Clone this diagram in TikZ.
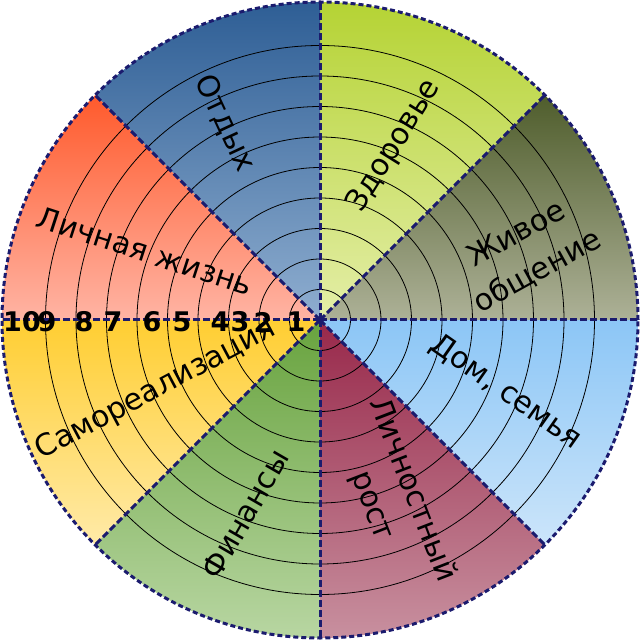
\documentclass[tikz,border=0pt]{standalone}
\usepackage{fontspec}
\setmainfont{DejaVu Sans}
\definecolor{navy}{HTML}{1B1B6E}
\definecolor{otT}{HTML}{2E5E95}\definecolor{otB}{HTML}{8FAED0}
\definecolor{zdT}{HTML}{B5D334}\definecolor{zdB}{HTML}{E4EEA8}
\definecolor{zhT}{HTML}{4F5D2C}\definecolor{zhB}{HTML}{ADB197}
\definecolor{doT}{HTML}{8CC6F6}\definecolor{doB}{HTML}{CCE5FA}
\definecolor{liT}{HTML}{98284A}\definecolor{liB}{HTML}{C8909F}
\definecolor{fiT}{HTML}{68A33E}\definecolor{fiB}{HTML}{B8D6A2}
\definecolor{saT}{HTML}{FFCE32}\definecolor{saB}{HTML}{FFEAA8}
\definecolor{lzT}{HTML}{FF5A2C}\definecolor{lzB}{HTML}{FFB4A4}
\begin{document}
\begin{tikzpicture}[x=1pt,y=1pt,
  divider/.style={draw=navy, line width=3pt, dash pattern=on 7pt off 3pt},
  rim/.style={draw=navy, line width=3pt, dash pattern=on 5pt off 3pt},
  ring/.style={draw=black, line width=0.8pt},
  lbl/.style={font=\fontsize{30}{43}\selectfont, align=center, inner sep=0pt},
  num/.style={font=\fontsize{27}{27}\selectfont\bfseries, inner sep=0pt}]
\useasboundingbox (-320,-322) rectangle (320,320);
\def\R{318}
\coordinate (O) at (0,0);
% sectors
\foreach \a/\tc/\bc in {0/zhT/zhB,45/zdT/zdB,90/otT/otB,135/lzT/lzB,180/saT/saB,225/fiT/fiB,270/liT/liB,315/doT/doB}{
  \shade[top color=\tc, bottom color=\bc] (O) -- (\a:\R) arc[start angle=\a, delta angle=45, radius=\R] -- cycle;
}
% rings
\foreach \k in {1,...,9}{
  \draw[ring] (O) circle[radius=30.5*\k];
}
% dividers
\foreach \a [count=\i] in {0,45,...,315}{
  \coordinate (P\i) at (\a:\R);
  \draw[divider] (O) -- (P\i);
}
\draw[rim] (O) circle[radius=\R];
\fill[navy] (O) circle[radius=4];
% labels
\node[lbl, rotate=-65] (otdyh) at (-95,197) {Отдых};
\node[lbl, rotate=58] (zdorovie) at (74,174) {Здоровье};
\node[lbl, rotate=29] (obshenie) at (207,67) {Живое\\общение};
\node[lbl, rotate=-35] (dom) at (186,-72) {Дом, семья};
\node[lbl, rotate=-69] (rost) at (72,-178) {Личностный\\рост};
\node[lbl, rotate=60] (finansy) at (-75,-194) {Финансы};
\node[lbl, rotate=28] (samo) at (-164,-70) {Самореализация};
\node[lbl, rotate=-18] (lichnaya) at (-175,69) {Личная жизнь};
% numbers
\foreach \x/\t [count=\j] in {-24/1,-57/2,-80/3,-100/4,-138/5,-168/6,-207/7,-236/8,-273/9,-298/10}{
  \node[num] (n\j) at (\x,-2) {\t};
}
\end{tikzpicture}
\end{document}
